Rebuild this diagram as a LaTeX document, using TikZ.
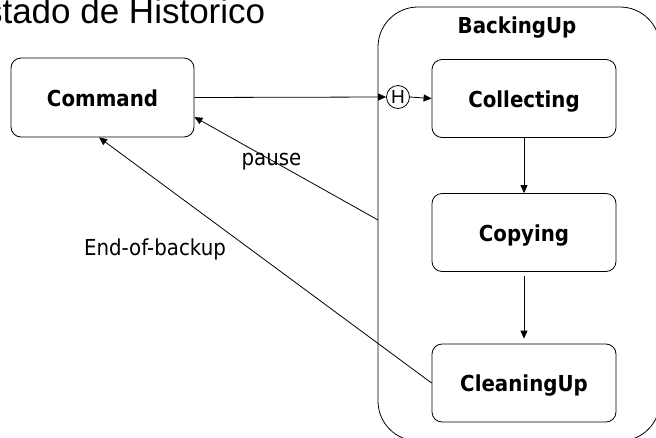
\documentclass[tikz,border=0pt]{standalone}
\usepackage{fontspec}
\usetikzlibrary{arrows.meta}
\newfontfamily\tah[FakeStretch=0.9]{DejaVu Sans}
\newfontfamily\arialf{Liberation Sans}
\begin{document}
\begin{tikzpicture}[x=1pt,y=-1pt,
  lw/.style={line width=0.8pt},
  statebox/.style={draw, lw, rounded corners=10pt, minimum width=184pt, minimum height=78pt,
    inner sep=0pt, text height=17pt, text depth=0pt, font=\tah\fontsize{22}{24}\selectfont\bfseries},
  hist/.style={draw, lw, circle, minimum size=23pt, inner sep=0pt, font=\arialf\fontsize{19}{20}\selectfont},
  lbl/.style={inner sep=0pt, anchor=base, font=\tah\fontsize{22}{24}\selectfont},
  arr/.style={lw, -{Triangle[length=8pt,width=7pt]}}
]
\useasboundingbox (0,0) rectangle (656,437);
% title
\node[inner sep=0pt, anchor=base west, font=\arialf\fontsize{35}{40}\selectfont] (title) at (-38.5,23) {Estado de Historico};
% container
\draw[lw, rounded corners=40pt] (378,7) -- (660,7) -- (660,441) -- (378,441) -- cycle;
\node[lbl, font=\tah\fontsize{22}{24}\selectfont\bfseries] (bu) at (517,33) {BackingUp};
\coordinate (p1) at (378,220);
% states
\node[statebox, minimum width=183pt, minimum height=79pt] (cmd) at (102.5,97.5) {Command};
\node[statebox] (col) at (524,98.5) {Collecting};
\node[statebox] (cop) at (524,232.5) {Copying};
\node[statebox] (cln) at (524,383) {CleaningUp};
\node[hist] (h) at (398,97) {H};
% connectors
\draw[arr] (cmd.east) -- (h.west);
\draw[arr] (h.east) -- (col.west);
\draw[arr] (col.south) -- (cop.north);
\draw[arr, shorten <=4pt, shorten >=5pt] (cop.south) -- (cln.north);
\draw[arr] (p1) -- (cmd.-12.6);
\draw[arr] (cln.west) -- (cmd.-95);
% labels
\node[lbl] (lp) at (271.5,165) {pause};
\node[lbl] (le) at (155,255) {End-of-backup};
\end{tikzpicture}
\end{document}
